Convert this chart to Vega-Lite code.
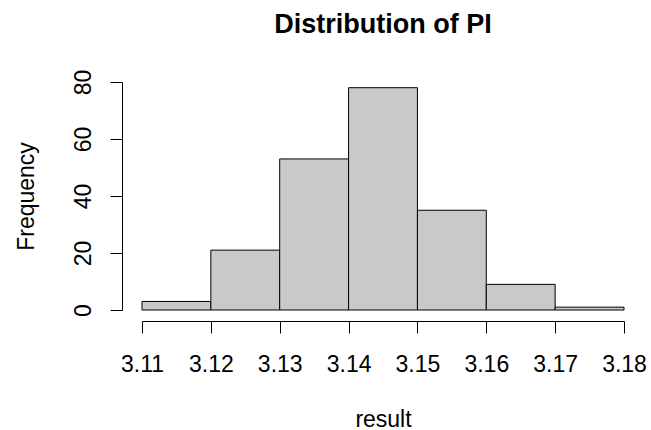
{
  "$schema": "https://vega.github.io/schema/vega-lite/v6.json",
  "autosize": {"type": "none"},
  "width": 482,
  "height": 228,
  "padding": {"left": 142, "top": 82, "right": 27, "bottom": 120},
  "background": "white",
  "config": {
    "view": {"stroke": null},
    "font": "Liberation Sans",
    "axis": {"grid": false, "domainColor": "#000", "tickColor": "#000", "labelColor": "#000", "titleColor": "#000", "labelFont": "Liberation Sans", "titleFont": "Liberation Sans", "labelFontSize": 23, "titleFontSize": 23, "titleFontWeight": "normal", "tickSize": 12, "domainWidth": 1, "tickWidth": 1}
  },
  "title": {"text": "Distribution of PI", "fontSize": 27, "fontWeight": "bold", "font": "Liberation Sans", "color": "#000", "anchor": "middle", "offset": 30},
  "data": {"values": [
    {"start": 3.11, "end": 3.12, "count": 3},
    {"start": 3.12, "end": 3.13, "count": 21},
    {"start": 3.13, "end": 3.14, "count": 53},
    {"start": 3.14, "end": 3.15, "count": 78},
    {"start": 3.15, "end": 3.16, "count": 35},
    {"start": 3.16, "end": 3.17, "count": 9},
    {"start": 3.17, "end": 3.18, "count": 1}
  ]},
  "mark": {"type": "rect", "fill": "#c9c9c9", "stroke": "#000", "strokeWidth": 1},
  "encoding": {
    "x": {"field": "start", "type": "quantitative", "scale": {"domain": [3.11, 3.18], "nice": false, "zero": false},
      "axis": {"title": "result", "values": [3.11, 3.12, 3.13, 3.14, 3.15, 3.16, 3.17, 3.18], "format": ".2f", "offset": 11, "labelBaseline": "alphabetic", "labelPadding": 38, "titlePadding": 32, "labelFlush": false, "labelOverlap": false}},
    "x2": {"field": "end"},
    "y": {"field": "count", "type": "quantitative", "scale": {"domain": [0, 80], "nice": false},
      "axis": {"title": "Frequency", "values": [0, 20, 40, 60, 80], "offset": 20, "labelAngle": 270, "labelAlign": "center", "labelBaseline": "alphabetic", "labelPadding": 20, "titlePadding": 34, "labelFlush": false, "labelOverlap": false}},
    "y2": {"datum": 0}
  }
}
